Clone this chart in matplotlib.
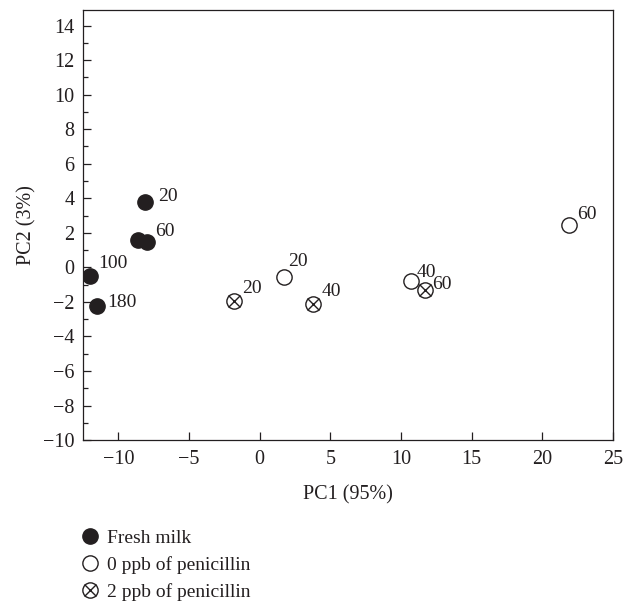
import numpy as np
import matplotlib.pyplot as plt
from matplotlib.ticker import MultipleLocator
from matplotlib.lines import Line2D

plt.rcParams['font.family'] = ['Liberation Serif', 'DejaVu Serif']
plt.rcParams['mathtext.fontset'] = 'stix'

INK = '#231f20'

# PCA scores (PC1, PC2) and the storage labels shown next to each point
fresh_pc1 = [-8.1, -8.6, -8.0, -12.0, -11.5]
fresh_pc2 = [3.77, 1.57, 1.45, -0.5, -2.25]
fresh_lab = ['20', '', '60', '100', '180']

ppb0_pc1 = [1.73, 10.7, 21.9]
ppb0_pc2 = [-0.55, -0.8, 2.43]
ppb0_lab = ['20', '40', '60']

ppb2_pc1 = [-1.8, 3.8, 11.7]
ppb2_pc2 = [-1.96, -2.13, -1.32]
ppb2_lab = ['20', '40', '60']

legend_labels = ['Fresh milk', '0 ppb of penicillin', '2 ppb of penicillin']

# label offsets in points (dx, dy), per group
fresh_off = [(9, 4), (0, 0), (6, 8), (6, 9), (7, 3)]
ppb0_off = [(3, 11), (4, 6), (6, 8)]
ppb2_off = [(6, 9), (6, 9), (5, 4)]

fig = plt.figure(figsize=(6.26, 6.02), dpi=100)
ax = fig.add_axes([0.1326, 0.269, 0.8464, 0.7144])

ms = 11
ax.plot(fresh_pc1, fresh_pc2, 'o', ms=ms, color=INK, mec=INK, ls='none', zorder=3)
ax.plot(ppb0_pc1, ppb0_pc2, 'o', ms=ms, mfc='white', mec=INK, mew=1.0, ls='none', zorder=3)
ax.plot(ppb2_pc1, ppb2_pc2, 'o', ms=ms, mfc='white', mec=INK, mew=1.0, ls='none', zorder=4)
ax.plot(ppb2_pc1, ppb2_pc2, 'x', ms=ms * 0.85, mec=INK, mew=1.0, ls='none', zorder=5)

for xs, ys, labs, offs in [(fresh_pc1, fresh_pc2, fresh_lab, fresh_off),
                           (ppb0_pc1, ppb0_pc2, ppb0_lab, ppb0_off),
                           (ppb2_pc1, ppb2_pc2, ppb2_lab, ppb2_off)]:
    for x, y, t, o in zip(xs, ys, labs, offs):
        if t:
            ax.annotate(t, (x, y), xytext=o, textcoords='offset points',
                        ha='left', va='center', fontsize=14, color=INK, zorder=6)

ax.set_xlim(-12.5, 25)
ax.set_ylim(-10, 14.9)
ax.xaxis.set_major_locator(MultipleLocator(5))
ax.yaxis.set_major_locator(MultipleLocator(2))
ax.yaxis.set_minor_locator(MultipleLocator(1))
ax.tick_params(axis='both', which='both', direction='in', colors=INK,
               labelsize=14.5, top=False, right=False)
ax.tick_params(axis='both', which='major', length=6, width=0.9)
ax.tick_params(axis='both', which='minor', length=3.5, width=0.9)
ax.tick_params(axis='y', pad=6)
ax.tick_params(axis='x', pad=7)
for s in ax.spines.values():
    s.set_color(INK)
    s.set_linewidth(0.9)

ax.set_xlabel('PC1 (95%)', fontsize=14.5, color=INK, labelpad=12)
ax.set_ylabel('PC2 (3%)', fontsize=14.5, color=INK, labelpad=5)

h_fresh = Line2D([], [], marker='o', ms=ms, color=INK, ls='none')
h_0 = Line2D([], [], marker='o', ms=ms, mfc='white', mec=INK, mew=1.0, ls='none')
h_2a = Line2D([], [], marker='o', ms=ms, mfc='white', mec=INK, mew=1.0, ls='none')
h_2b = Line2D([], [], marker='x', ms=ms * 0.85, mec=INK, mew=1.0, ls='none')
leg = fig.legend([h_fresh, h_0, (h_2a, h_2b)], legend_labels,
                 loc='upper left', bbox_to_anchor=(0.129, 0.121),
                 frameon=False, fontsize=14, handlelength=1.0, handletextpad=0.35,
                 labelspacing=0.48, borderaxespad=0, borderpad=0)
for t in leg.get_texts():
    t.set_color(INK)

fig.savefig('out.png', dpi=100)
